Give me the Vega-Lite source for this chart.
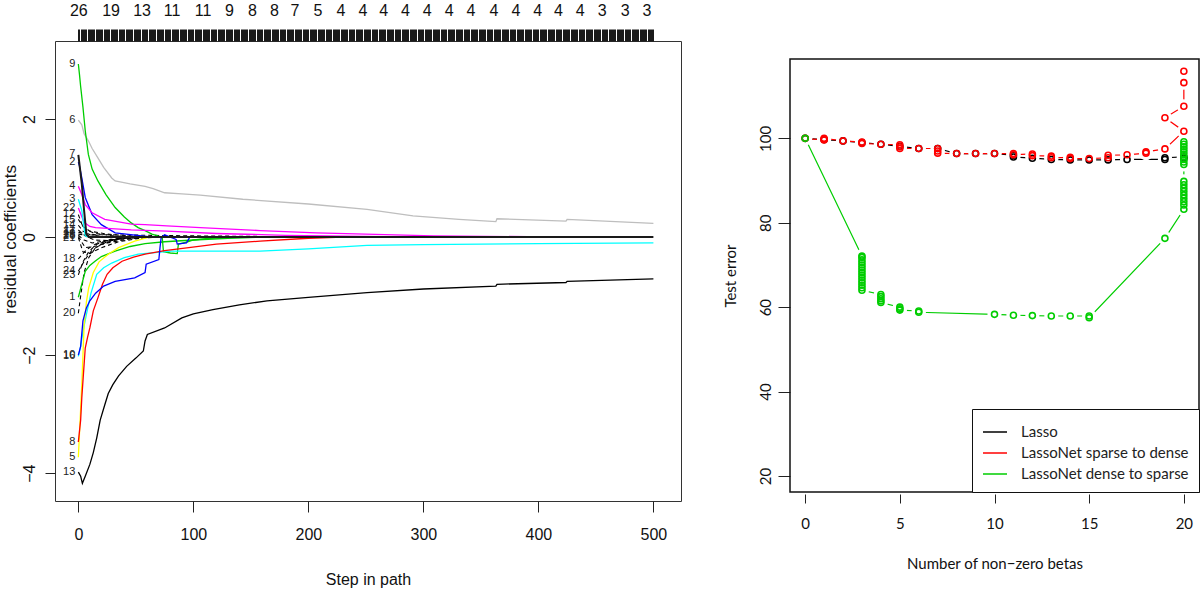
{
"$schema": "https://vega.github.io/schema/vega-lite/v6.json",
"padding": {"left": 0, "top": 1, "right": 0, "bottom": 0},
"background": "white",
"spacing": 41,
"resolve": {"scale": {"color": "independent"}, "legend": {"color": "independent"}},
"datasets": {
"paths": [
{"v":"12","s":0,"c":0.38},{"v":"12","s":3,"c":0.22},{"v":"12","s":7,"c":0.12},{"v":"12","s":15,"c":0.06},{"v":"12","s":30,"c":0.02},{"v":"12","s":50,"c":0},
{"v":"15","s":0,"c":0.3},{"v":"15","s":4,"c":0.18},{"v":"15","s":10,"c":0.1},{"v":"15","s":25,"c":0.05},{"v":"15","s":45,"c":0.02},{"v":"15","s":65,"c":0},
{"v":"14","s":0,"c":0.2},{"v":"14","s":4,"c":0.1},{"v":"14","s":10,"c":0.04},{"v":"14","s":25,"c":0},
{"v":"11","s":0,"c":0.12},{"v":"11","s":6,"c":0.02},{"v":"11","s":14,"c":-0.05},{"v":"11","s":25,"c":-0.06},{"v":"11","s":40,"c":-0.02},{"v":"11","s":58,"c":0},
{"v":"17","s":0,"c":0.08},{"v":"17","s":5,"c":0.06},{"v":"17","s":15,"c":0.04},{"v":"17","s":60,"c":0.03},{"v":"17","s":100,"c":0.02},{"v":"17","s":160,"c":0.01},{"v":"17","s":200,"c":0},
{"v":"19","s":0,"c":0.05},{"v":"19","s":8,"c":0.03},{"v":"19","s":20,"c":0},
{"v":"25","s":0,"c":0.03},{"v":"25","s":5,"c":-0.05},{"v":"25","s":12,"c":-0.1},{"v":"25","s":25,"c":-0.06},{"v":"25","s":40,"c":-0.02},{"v":"25","s":60,"c":0},
{"v":"26","s":0,"c":0.01},{"v":"26","s":6,"c":-0.18},{"v":"26","s":14,"c":-0.16},{"v":"26","s":25,"c":-0.1},{"v":"26","s":45,"c":-0.03},{"v":"26","s":70,"c":0},
{"v":"21","s":0,"c":-0.01},{"v":"21","s":4,"c":-0.25},{"v":"21","s":10,"c":-0.28},{"v":"21","s":20,"c":-0.18},{"v":"21","s":35,"c":-0.08},{"v":"21","s":60,"c":0},
{"v":"18","s":0,"c":-0.37},{"v":"18","s":3,"c":-0.3},{"v":"18","s":8,"c":-0.2},{"v":"18","s":15,"c":-0.12},{"v":"18","s":30,"c":-0.05},{"v":"18","s":50,"c":0},
{"v":"24","s":0,"c":-0.58},{"v":"24","s":3,"c":-0.48},{"v":"24","s":7,"c":-0.35},{"v":"24","s":12,"c":-0.22},{"v":"24","s":20,"c":-0.12},{"v":"24","s":35,"c":-0.04},{"v":"24","s":55,"c":0},
{"v":"23","s":0,"c":-0.64},{"v":"23","s":4,"c":-0.42},{"v":"23","s":9,"c":-0.25},{"v":"23","s":16,"c":-0.12},{"v":"23","s":28,"c":-0.04},{"v":"23","s":45,"c":0},
{"v":"20","s":0,"c":-1.29},{"v":"20","s":2,"c":-1.0},{"v":"20","s":5,"c":-0.6},{"v":"20","s":9,"c":-0.35},{"v":"20","s":15,"c":-0.18},{"v":"20","s":25,"c":-0.08},{"v":"20","s":40,"c":0},
{"v":"6","s":0,"c":1.98},{"v":"6","s":3,"c":1.9},{"v":"6","s":5,"c":1.75},{"v":"6","s":8.7,"c":1.63},{"v":"6","s":12,"c":1.5},{"v":"6","s":17,"c":1.34},{"v":"6","s":22,"c":1.18},{"v":"6","s":29,"c":1.0},{"v":"6","s":32,"c":0.95},{"v":"6","s":45,"c":0.9},{"v":"6","s":58,"c":0.86},{"v":"6","s":65,"c":0.82},{"v":"6","s":75,"c":0.75},{"v":"6","s":90,"c":0.73},{"v":"6","s":106,"c":0.71},{"v":"6","s":143,"c":0.64},{"v":"6","s":200,"c":0.56},{"v":"6","s":251,"c":0.47},{"v":"6","s":291,"c":0.36},{"v":"6","s":331,"c":0.3},{"v":"6","s":363,"c":0.26},{"v":"6","s":364,"c":0.31},{"v":"6","s":424,"c":0.27},{"v":"6","s":425,"c":0.3},{"v":"6","s":500,"c":0.23},
{"v":"9","s":0,"c":2.93},{"v":"9","s":1,"c":2.75},{"v":"9","s":2,"c":2.55},{"v":"9","s":4,"c":2.2},{"v":"9","s":6,"c":1.8},{"v":"9","s":8.7,"c":1.4},{"v":"9","s":12,"c":1.15},{"v":"9","s":17,"c":0.95},{"v":"9","s":24,"c":0.72},{"v":"9","s":32,"c":0.5},{"v":"9","s":40,"c":0.34},{"v":"9","s":46,"c":0.24},{"v":"9","s":52,"c":0.16},{"v":"9","s":58,"c":0.11},{"v":"9","s":64,"c":0.05},{"v":"9","s":69,"c":0.02},{"v":"9","s":73,"c":-0.02},{"v":"9","s":74,"c":-0.25},{"v":"9","s":80,"c":-0.27},{"v":"9","s":86,"c":-0.28},{"v":"9","s":87,"c":-0.12},{"v":"9","s":95,"c":-0.08},{"v":"9","s":100,"c":-0.05},{"v":"9","s":115,"c":-0.02},{"v":"9","s":130,"c":0},
{"v":"2","s":0,"c":1.27},{"v":"2","s":1,"c":1.2},{"v":"2","s":3,"c":1.0},{"v":"2","s":6,"c":0.67},{"v":"2","s":12,"c":0.38},{"v":"2","s":20,"c":0.21},{"v":"2","s":32,"c":0.07},{"v":"2","s":55,"c":0.02},{"v":"2","s":65,"c":0},
{"v":"4","s":0,"c":0.86},{"v":"4","s":3,"c":0.72},{"v":"4","s":6,"c":0.55},{"v":"4","s":12,"c":0.41},{"v":"4","s":23,"c":0.3},{"v":"4","s":46,"c":0.22},{"v":"4","s":58,"c":0.21},{"v":"4","s":77,"c":0.19},{"v":"4","s":106,"c":0.16},{"v":"4","s":158,"c":0.11},{"v":"4","s":207,"c":0.07},{"v":"4","s":309,"c":0.02},{"v":"4","s":425,"c":0},
{"v":"22","s":0,"c":0.49},{"v":"22","s":5,"c":0.25},{"v":"22","s":10,"c":0.18},{"v":"22","s":15,"c":0.16},{"v":"22","s":46,"c":0.12},{"v":"22","s":77,"c":0.1},{"v":"22","s":120,"c":0.06},{"v":"22","s":180,"c":0.03},{"v":"22","s":250,"c":0.01},{"v":"22","s":300,"c":0},
{"v":"3","s":0,"c":0.64},{"v":"3","s":3,"c":0.45},{"v":"3","s":5,"c":0.15},{"v":"3","s":6,"c":0.02},{"v":"3","s":8,"c":0},
{"v":"1","s":0,"c":-1.02},{"v":"1","s":3,"c":-0.8},{"v":"1","s":6,"c":-0.58},{"v":"1","s":10,"c":-0.48},{"v":"1","s":14.5,"c":-0.41},{"v":"1","s":20,"c":-0.33},{"v":"1","s":32,"c":-0.24},{"v":"1","s":45,"c":-0.16},{"v":"1","s":58,"c":-0.11},{"v":"1","s":75,"c":-0.08},{"v":"1","s":100,"c":-0.05},{"v":"1","s":130,"c":-0.02},{"v":"1","s":160,"c":0},
{"v":"16","s":0,"c":-2.02},{"v":"16","s":2,"c":-1.85},{"v":"16","s":4,"c":-1.6},{"v":"16","s":7,"c":-1.31},{"v":"16","s":11,"c":-0.95},{"v":"16","s":16,"c":-0.63},{"v":"16","s":22,"c":-0.52},{"v":"16","s":29,"c":-0.44},{"v":"16","s":40,"c":-0.35},{"v":"16","s":52,"c":-0.29},{"v":"16","s":81,"c":-0.24},{"v":"16","s":158,"c":-0.24},{"v":"16","s":200,"c":-0.2},{"v":"16","s":251,"c":-0.14},{"v":"16","s":300,"c":-0.13},{"v":"16","s":400,"c":-0.11},{"v":"16","s":500,"c":-0.1},
{"v":"5","s":0,"c":-3.73},{"v":"5","s":3,"c":-2.5},{"v":"5","s":5,"c":-1.5},{"v":"5","s":7,"c":-1.1},{"v":"5","s":9,"c":-0.86},{"v":"5","s":13,"c":-0.6},{"v":"5","s":18,"c":-0.42},{"v":"5","s":26,"c":-0.29},{"v":"5","s":35,"c":-0.18},{"v":"5","s":49,"c":-0.07},{"v":"5","s":60,"c":-0.01},{"v":"5","s":70,"c":0},
{"v":"8","s":0,"c":-3.47},{"v":"8","s":2,"c":-3.1},{"v":"8","s":3,"c":-2.72},{"v":"8","s":6,"c":-1.88},{"v":"8","s":8,"c":-1.7},{"v":"8","s":10,"c":-1.54},{"v":"8","s":13,"c":-1.25},{"v":"8","s":17,"c":-1.03},{"v":"8","s":21,"c":-0.8},{"v":"8","s":25,"c":-0.63},{"v":"8","s":30,"c":-0.52},{"v":"8","s":38,"c":-0.41},{"v":"8","s":48,"c":-0.34},{"v":"8","s":58,"c":-0.29},{"v":"8","s":75,"c":-0.23},{"v":"8","s":96,"c":-0.18},{"v":"8","s":120,"c":-0.12},{"v":"8","s":158,"c":-0.07},{"v":"8","s":200,"c":-0.02},{"v":"8","s":230,"c":0},
{"v":"10","s":0,"c":-2.0},{"v":"10","s":2,"c":-1.85},{"v":"10","s":4,"c":-1.42},{"v":"10","s":7,"c":-1.2},{"v":"10","s":10,"c":-1.08},{"v":"10","s":15,"c":-0.95},{"v":"10","s":22,"c":-0.83},{"v":"10","s":32,"c":-0.75},{"v":"10","s":49,"c":-0.69},{"v":"10","s":58,"c":-0.6},{"v":"10","s":59,"c":-0.46},{"v":"10","s":70,"c":-0.38},{"v":"10","s":71,"c":-0.18},{"v":"10","s":72,"c":-0.01},{"v":"10","s":75,"c":0.04},{"v":"10","s":80,"c":0},{"v":"10","s":85,"c":-0.04},{"v":"10","s":86,"c":-0.12},{"v":"10","s":94,"c":-0.1},{"v":"10","s":97,"c":0},
{"v":"13","s":0,"c":-3.98},{"v":"13","s":2,"c":-4.05},{"v":"13","s":3.5,"c":-4.17},{"v":"13","s":6,"c":-4.05},{"v":"13","s":10,"c":-3.85},{"v":"13","s":13,"c":-3.65},{"v":"13","s":16,"c":-3.4},{"v":"13","s":19,"c":-3.1},{"v":"13","s":23,"c":-2.84},{"v":"13","s":26,"c":-2.65},{"v":"13","s":30,"c":-2.5},{"v":"13","s":35,"c":-2.35},{"v":"13","s":42,"c":-2.19},{"v":"13","s":50,"c":-2.05},{"v":"13","s":56.5,"c":-1.93},{"v":"13","s":58,"c":-1.76},{"v":"13","s":60,"c":-1.65},{"v":"13","s":75,"c":-1.54},{"v":"13","s":90,"c":-1.37},{"v":"13","s":100,"c":-1.3},{"v":"13","s":117,"c":-1.23},{"v":"13","s":140,"c":-1.15},{"v":"13","s":164,"c":-1.08},{"v":"13","s":200,"c":-1.02},{"v":"13","s":251,"c":-0.94},{"v":"13","s":300,"c":-0.88},{"v":"13","s":363,"c":-0.83},{"v":"13","s":364,"c":-0.8},{"v":"13","s":424,"c":-0.77},{"v":"13","s":425,"c":-0.75},{"v":"13","s":500,"c":-0.71},
{"v":"7","s":0,"c":1.39},{"v":"7","s":3,"c":0.9},{"v":"7","s":5,"c":0.45},{"v":"7","s":7,"c":0.05},{"v":"7","s":9,"c":0},{"v":"7","s":500,"c":0}
],
"labs": [
{"v":"9","c":2.93},{"v":"6","c":1.98},{"v":"7","c":1.41},{"v":"2","c":1.27},{"v":"4","c":0.86},{"v":"3","c":0.64},{"v":"22","c":0.49},{"v":"12","c":0.39},{"v":"15","c":0.29},{"v":"14","c":0.2},{"v":"11","c":0.12},{"v":"17","c":0.08},{"v":"19","c":0.05},{"v":"25","c":0.03},{"v":"26","c":0.01},{"v":"21","c":-0.01},{"v":"18","c":-0.37},{"v":"24","c":-0.58},{"v":"23","c":-0.64},{"v":"1","c":-1.02},{"v":"20","c":-1.29},{"v":"10","c":-2.0},{"v":"16","c":-2.02},{"v":"8","c":-3.47},{"v":"5","c":-3.73},{"v":"13","c":-3.98}
],
"frame": [{"x1": -0.8, "x2": 20.8, "y1": 16.2, "y2": 118.8}],
"r": [
{"m":"Lasso","b":0,"e":100,"o":0},{"m":"Lasso","b":1,"e":99.7,"o":1},{"m":"Lasso","b":2,"e":99.4,"o":2},{"m":"Lasso","b":3,"e":99.0,"o":3},{"m":"Lasso","b":4,"e":98.6,"o":4},{"m":"Lasso","b":5,"e":98.1,"o":5},{"m":"Lasso","b":6,"e":97.6,"o":6},{"m":"Lasso","b":7,"e":97.6,"o":7},{"m":"Lasso","b":8,"e":96.4,"o":8},{"m":"Lasso","b":9,"e":96.4,"o":9},{"m":"Lasso","b":10,"e":96.4,"o":10},{"m":"Lasso","b":11,"e":96.0,"o":11},{"m":"Lasso","b":11,"e":95.6,"o":12},{"m":"Lasso","b":12,"e":95.3,"o":13},{"m":"Lasso","b":13,"e":95.0,"o":14},{"m":"Lasso","b":14,"e":94.9,"o":15},{"m":"Lasso","b":15,"e":94.9,"o":16},{"m":"Lasso","b":16,"e":94.9,"o":17},{"m":"Lasso","b":17,"e":95.0,"o":18},{"m":"Lasso","b":19,"e":95.0,"o":19},{"m":"Lasso","b":19,"e":95.4,"o":20},{"m":"Lasso","b":20,"e":95.6,"o":21},{"m":"Lasso","b":20,"e":95.2,"o":22},
{"m":"LassoNet sparse to dense","b":0,"e":100,"o":0},{"m":"LassoNet sparse to dense","b":1,"e":99.6,"o":1},{"m":"LassoNet sparse to dense","b":1,"e":99.8,"o":2},{"m":"LassoNet sparse to dense","b":1,"e":100.0,"o":3},{"m":"LassoNet sparse to dense","b":2,"e":99.4,"o":4},{"m":"LassoNet sparse to dense","b":3,"e":99.1,"o":5},{"m":"LassoNet sparse to dense","b":3,"e":98.8,"o":6},{"m":"LassoNet sparse to dense","b":4,"e":98.6,"o":7},{"m":"LassoNet sparse to dense","b":5,"e":98.5,"o":8},{"m":"LassoNet sparse to dense","b":5,"e":98.0,"o":9},{"m":"LassoNet sparse to dense","b":5,"e":97.6,"o":10},{"m":"LassoNet sparse to dense","b":6,"e":97.6,"o":11},{"m":"LassoNet sparse to dense","b":7,"e":97.6,"o":12},{"m":"LassoNet sparse to dense","b":7,"e":97.0,"o":13},{"m":"LassoNet sparse to dense","b":7,"e":96.5,"o":14},{"m":"LassoNet sparse to dense","b":8,"e":96.4,"o":15},{"m":"LassoNet sparse to dense","b":9,"e":96.4,"o":16},{"m":"LassoNet sparse to dense","b":10,"e":96.4,"o":17},{"m":"LassoNet sparse to dense","b":11,"e":96.4,"o":18},{"m":"LassoNet sparse to dense","b":11,"e":96.1,"o":19},{"m":"LassoNet sparse to dense","b":12,"e":96.3,"o":20},{"m":"LassoNet sparse to dense","b":12,"e":95.9,"o":21},{"m":"LassoNet sparse to dense","b":13,"e":95.8,"o":22},{"m":"LassoNet sparse to dense","b":13,"e":95.4,"o":23},{"m":"LassoNet sparse to dense","b":14,"e":95.5,"o":24},{"m":"LassoNet sparse to dense","b":14,"e":95.2,"o":25},{"m":"LassoNet sparse to dense","b":15,"e":95.2,"o":26},{"m":"LassoNet sparse to dense","b":16,"e":95.4,"o":27},{"m":"LassoNet sparse to dense","b":16,"e":96.0,"o":28},{"m":"LassoNet sparse to dense","b":17,"e":96.1,"o":29},{"m":"LassoNet sparse to dense","b":18,"e":96.5,"o":30},{"m":"LassoNet sparse to dense","b":18,"e":96.8,"o":31},{"m":"LassoNet sparse to dense","b":19,"e":97.5,"o":32},{"m":"LassoNet sparse to dense","b":20,"e":101.7,"o":33},{"m":"LassoNet sparse to dense","b":19,"e":104.9,"o":34},{"m":"LassoNet sparse to dense","b":20,"e":107.6,"o":35},{"m":"LassoNet sparse to dense","b":20,"e":113.2,"o":36},{"m":"LassoNet sparse to dense","b":20,"e":115.9,"o":37},
{"m":"LassoNet dense to sparse","b":20,"e":99.2,"o":0},{"m":"LassoNet dense to sparse","b":20,"e":98.6,"o":1},{"m":"LassoNet dense to sparse","b":20,"e":98.0,"o":2},{"m":"LassoNet dense to sparse","b":20,"e":97.4,"o":3},{"m":"LassoNet dense to sparse","b":20,"e":96.8,"o":4},{"m":"LassoNet dense to sparse","b":20,"e":96.2,"o":5},{"m":"LassoNet dense to sparse","b":20,"e":95.6,"o":6},{"m":"LassoNet dense to sparse","b":20,"e":95.0,"o":7},{"m":"LassoNet dense to sparse","b":20,"e":94.4,"o":8},{"m":"LassoNet dense to sparse","b":20,"e":93.8,"o":9},{"m":"LassoNet dense to sparse","b":20,"e":89.8,"o":10},{"m":"LassoNet dense to sparse","b":20,"e":89.0,"o":11},{"m":"LassoNet dense to sparse","b":20,"e":88.2,"o":12},{"m":"LassoNet dense to sparse","b":20,"e":87.4,"o":13},{"m":"LassoNet dense to sparse","b":20,"e":86.6,"o":14},{"m":"LassoNet dense to sparse","b":20,"e":85.8,"o":15},{"m":"LassoNet dense to sparse","b":20,"e":85.0,"o":16},{"m":"LassoNet dense to sparse","b":20,"e":84.2,"o":17},{"m":"LassoNet dense to sparse","b":20,"e":83.2,"o":18},{"m":"LassoNet dense to sparse","b":19,"e":76.3,"o":19},{"m":"LassoNet dense to sparse","b":15,"e":57.5,"o":20},{"m":"LassoNet dense to sparse","b":15,"e":57.9,"o":21},{"m":"LassoNet dense to sparse","b":14,"e":57.9,"o":22},{"m":"LassoNet dense to sparse","b":13,"e":57.9,"o":23},{"m":"LassoNet dense to sparse","b":12,"e":58.0,"o":24},{"m":"LassoNet dense to sparse","b":11,"e":58.1,"o":25},{"m":"LassoNet dense to sparse","b":10,"e":58.3,"o":26},{"m":"LassoNet dense to sparse","b":6,"e":58.8,"o":27},{"m":"LassoNet dense to sparse","b":6,"e":59.1,"o":28},{"m":"LassoNet dense to sparse","b":5,"e":59.3,"o":29},{"m":"LassoNet dense to sparse","b":5,"e":59.6,"o":30},{"m":"LassoNet dense to sparse","b":5,"e":60.0,"o":31},{"m":"LassoNet dense to sparse","b":4,"e":61.1,"o":32},{"m":"LassoNet dense to sparse","b":4,"e":61.5,"o":33},{"m":"LassoNet dense to sparse","b":4,"e":62.0,"o":34},{"m":"LassoNet dense to sparse","b":4,"e":62.5,"o":35},{"m":"LassoNet dense to sparse","b":4,"e":63.0,"o":36},{"m":"LassoNet dense to sparse","b":3,"e":64.0,"o":37},{"m":"LassoNet dense to sparse","b":3,"e":64.6,"o":38},{"m":"LassoNet dense to sparse","b":3,"e":65.2,"o":39},{"m":"LassoNet dense to sparse","b":3,"e":65.8,"o":40},{"m":"LassoNet dense to sparse","b":3,"e":66.4,"o":41},{"m":"LassoNet dense to sparse","b":3,"e":67.0,"o":42},{"m":"LassoNet dense to sparse","b":3,"e":67.6,"o":43},{"m":"LassoNet dense to sparse","b":3,"e":68.2,"o":44},{"m":"LassoNet dense to sparse","b":3,"e":68.8,"o":45},{"m":"LassoNet dense to sparse","b":3,"e":69.4,"o":46},{"m":"LassoNet dense to sparse","b":3,"e":70.0,"o":47},{"m":"LassoNet dense to sparse","b":3,"e":70.6,"o":48},{"m":"LassoNet dense to sparse","b":3,"e":71.2,"o":49},{"m":"LassoNet dense to sparse","b":3,"e":71.8,"o":50},{"m":"LassoNet dense to sparse","b":3,"e":72.1,"o":51},{"m":"LassoNet dense to sparse","b":0,"e":100,"o":52}
]
},
"hconcat": [
{
 "width": 626, "height": 460,
 "view": {"stroke": "#333", "strokeWidth": 1},
 "resolve": {"axis": {"x": "independent"}},
 "layer": [
  {
   "data": {"name": "paths"},
   "transform": [{"filter": {"field": "v", "oneOf": ["12","15","14","11","17","19","25","26","21","18","24","23","20"]}}],
   "mark": {"type": "line", "color": "#000000", "strokeWidth": 1.1, "strokeDash": [4, 3]},
   "encoding": {
    "x": {"field": "s", "type": "quantitative", "scale": {"domain": [-20.3, 524], "nice": false, "zero": false},
     "axis": {"orient": "bottom", "values": [0, 100, 200, 300, 400, 500], "tickSize": 11, "labelFontSize": 16, "labelPadding": 14, "labelFont": "Liberation Sans", "title": "Step in path", "titleFont": "Liberation Sans", "titleFontSize": 16, "titlePadding": 29}},
    "y": {"field": "c", "type": "quantitative", "scale": {"domain": [-4.47, 3.32], "nice": false, "zero": false},
     "axis": {"values": [-4, -2, 0, 2], "tickSize": 10, "labelAngle": -90, "labelAlign": "center", "labelBaseline": "bottom", "labelFontSize": 16, "labelPadding": 8, "labelFont": "Liberation Sans", "title": "residual coefficients", "titleFont": "Liberation Sans", "titleFontSize": 17, "titlePadding": 2, "titleY": 198}},
    "detail": {"field": "v"}
   }
  },
  {
   "data": {"name": "paths"},
   "transform": [{"filter": {"not": {"field": "v", "oneOf": ["12","15","14","11","17","19","25","26","21","18","24","23","20","7"]}}}],
   "mark": {"type": "line", "strokeWidth": 1.3},
   "encoding": {
    "x": {"field": "s", "type": "quantitative", "scale": {"domain": [-20.3, 524], "nice": false, "zero": false}, "axis": null},
    "y": {"field": "c", "type": "quantitative", "scale": {"domain": [-4.47, 3.32], "nice": false, "zero": false},
     "axis": {"values": [-4, -2, 0, 2], "tickSize": 10, "labelAngle": -90, "labelAlign": "center", "labelBaseline": "bottom", "labelFontSize": 16, "labelPadding": 8, "labelFont": "Liberation Sans", "title": "residual coefficients", "titleFont": "Liberation Sans", "titleFontSize": 17, "titlePadding": 2, "titleY": 198}},
    "color": {"field": "v", "type": "nominal", "legend": null,
     "scale": {"domain": ["6","9","2","4","22","3","1","16","5","8","10","13"], "range": ["#BEBEBE","#00CD00","#0000FF","#FF00FF","#FF00FF","#00FFFF","#00CD00","#00FFFF","#FFFF00","#FF0000","#0000FF","#000000"]}}
   }
  },
  {
   "data": {"name": "paths"},
   "transform": [{"filter": {"field": "v", "equal": "7"}}],
   "mark": {"type": "line", "strokeWidth": 2, "color": "#1a1a1a"},
   "encoding": {
    "x": {"field": "s", "type": "quantitative", "scale": {"domain": [-20.3, 524], "nice": false, "zero": false}, "axis": null},
    "y": {"field": "c", "type": "quantitative", "scale": {"domain": [-4.47, 3.32], "nice": false, "zero": false},
     "axis": {"values": [-4, -2, 0, 2], "tickSize": 10, "labelAngle": -90, "labelAlign": "center", "labelBaseline": "bottom", "labelFontSize": 16, "labelPadding": 8, "labelFont": "Liberation Sans", "title": "residual coefficients", "titleFont": "Liberation Sans", "titleFontSize": 17, "titlePadding": 2, "titleY": 198}}
   }
  },
  {
   "data": {"values": [{}]},
   "mark": {"type": "rule", "color": "#222222", "strokeDash": [4, 4], "strokeWidth": 1},
   "encoding": {
    "x": {"datum": 58.5, "type": "quantitative", "scale": {"domain": [-20.3, 524], "nice": false, "zero": false},
     "axis": {"orient": "top", "title": null, "tickSize": 12, "tickColor": "#1a1a1a", "tickWidth": 1, "labelFontSize": 16, "labelPadding": 11, "labelFont": "Liberation Sans", "labelOverlap": false, "labelFlush": false,
      "values": [0,1,2,3,4,5,6,7,8,9,10,11,12,13,14,15,16,17,18,19,20,21,22,23,24,25,26,27,28,29,30,31,32,33,34,35,36,37,38,39,40,41,42,43,44,45,46,47,48,49,50,51,52,53,54,55,56,57,58,59,60,61,62,63,64,65,66,67,68,69,70,71,72,73,74,75,76,77,78,79,80,81,82,83,84,85,86,87,88,89,90,91,92,93,94,95,96,97,98,99,100,101,102,103,104,105,106,107,108,109,110,111,112,113,114,115,116,117,118,119,120,121,122,123,124,125,126,127,128,129,130,131,132,133,134,135,136,137,138,139,140,141,142,143,144,145,146,147,148,149,150,151,152,153,154,155,156,157,158,159,160,161,162,163,164,165,166,167,168,169,170,171,172,173,174,175,176,177,178,179,180,181,182,183,184,185,186,187,188,189,190,191,192,193,194,195,196,197,198,199,200,201,202,203,204,205,206,207,208,209,210,211,212,213,214,215,216,217,218,219,220,221,222,223,224,225,226,227,228,229,230,231,232,233,234,235,236,237,238,239,240,241,242,243,244,245,246,247,248,249,250,251,252,253,254,255,256,257,258,259,260,261,262,263,264,265,266,267,268,269,270,271,272,273,274,275,276,277,278,279,280,281,282,283,284,285,286,287,288,289,290,291,292,293,294,295,296,297,298,299,300,301,302,303,304,305,306,307,308,309,310,311,312,313,314,315,316,317,318,319,320,321,322,323,324,325,326,327,328,329,330,331,332,333,334,335,336,337,338,339,340,341,342,343,344,345,346,347,348,349,350,351,352,353,354,355,356,357,358,359,360,361,362,363,364,365,366,367,368,369,370,371,372,373,374,375,376,377,378,379,380,381,382,383,384,385,386,387,388,389,390,391,392,393,394,395,396,397,398,399,400,401,402,403,404,405,406,407,408,409,410,411,412,413,414,415,416,417,418,419,420,421,422,423,424,425,426,427,428,429,430,431,432,433,434,435,436,437,438,439,440,441,442,443,444,445,446,447,448,449,450,451,452,453,454,455,456,457,458,459,460,461,462,463,464,465,466,467,468,469,470,471,472,473,474,475,476,477,478,479,480,481,482,483,484,485,486,487,488,489,490,491,492,493,494,495,496,497,498,499,500],
      "labelExpr": "indexof([0,28,55,81,108,131,151,170,188,208,228,247,265,284,303,322,341,361,380,399,417,436,455,475,494], datum.value) >= 0 ? ['26','19','13','11','11','9','8','8','7','5','4','4','4','4','4','4','4','4','4','4','4','4','3','3','3'][indexof([0,28,55,81,108,131,151,170,188,208,228,247,265,284,303,322,341,361,380,399,417,436,455,475,494], datum.value)] : ''"}},
    "y": {"datum": 0, "type": "quantitative", "scale": {"domain": [-4.47, 3.32], "nice": false, "zero": false},
     "axis": {"values": [-4, -2, 0, 2], "tickSize": 10, "labelAngle": -90, "labelAlign": "center", "labelBaseline": "bottom", "labelFontSize": 16, "labelPadding": 8, "labelFont": "Liberation Sans", "title": "residual coefficients", "titleFont": "Liberation Sans", "titleFontSize": 17, "titlePadding": 2, "titleY": 198}},
    "y2": {"datum": 0}
   }
  },
  {
   "data": {"name": "labs"},
   "mark": {"type": "text", "align": "right", "baseline": "middle", "dx": -3, "fontSize": 11, "font": "Liberation Sans", "color": "#222222"},
   "encoding": {
    "x": {"datum": 0, "type": "quantitative", "scale": {"domain": [-20.3, 524], "nice": false, "zero": false}, "axis": null},
    "y": {"field": "c", "type": "quantitative", "scale": {"domain": [-4.47, 3.32], "nice": false, "zero": false},
     "axis": {"values": [-4, -2, 0, 2], "tickSize": 10, "labelAngle": -90, "labelAlign": "center", "labelBaseline": "bottom", "labelFontSize": 16, "labelPadding": 8, "labelFont": "Liberation Sans", "title": "residual coefficients", "titleFont": "Liberation Sans", "titleFontSize": 17, "titlePadding": 2, "titleY": 198}},
    "text": {"field": "v"}
   }
  }
 ]
},
{
 "width": 409, "height": 451,
 "view": {"stroke": null},
 "layer": [
  {
   "data": {"name": "r"},
   "mark": {"type": "line", "strokeWidth": 1.2},
   "encoding": {
    "x": {"field": "b", "type": "quantitative", "scale": {"domain": [-0.8, 20.8], "nice": false, "zero": false},
     "axis": {"orient": "bottom", "values": [0, 5, 10, 15, 20], "offset": 2, "tickSize": 9, "labelFontSize": 15, "labelPadding": 13, "labelFont": "Lato", "title": "Number of non\u2212zero betas", "titleFont": "Lato", "titleFontSize": 15, "titlePadding": 25}},
    "y": {"field": "e", "type": "quantitative", "scale": {"domain": [16.2, 123.07], "nice": false, "zero": false},
     "axis": {"values": [20, 40, 60, 80, 100], "tickSize": 12, "labelAngle": -90, "labelAlign": "center", "labelBaseline": "bottom", "labelFontSize": 15, "labelPadding": 5, "labelFont": "Lato", "title": "Test error", "titleFont": "Lato", "titleFontSize": 15, "titlePadding": 20, "titleY": 234.5}},
    "color": {"field": "m", "type": "nominal", "scale": {"domain": ["Lasso", "LassoNet sparse to dense", "LassoNet dense to sparse"], "range": ["#000000", "#FF0000", "#00CD00"]}, "legend": {"title": null, "symbolType": "stroke"}},
    "order": {"field": "o"}
   }
  },
  {
   "data": {"name": "r"},
   "mark": {"type": "point", "shape": "circle", "filled": true, "color": "white", "opacity": 1, "size": 200},
   "encoding": {
    "x": {"field": "b", "type": "quantitative", "scale": {"domain": [-0.8, 20.8], "nice": false, "zero": false},
     "axis": {"orient": "bottom", "values": [0, 5, 10, 15, 20], "offset": 2, "tickSize": 9, "labelFontSize": 15, "labelPadding": 13, "labelFont": "Lato", "title": "Number of non\u2212zero betas", "titleFont": "Lato", "titleFontSize": 15, "titlePadding": 25}},
    "y": {"field": "e", "type": "quantitative", "scale": {"domain": [16.2, 123.07], "nice": false, "zero": false},
     "axis": {"values": [20, 40, 60, 80, 100], "tickSize": 12, "labelAngle": -90, "labelAlign": "center", "labelBaseline": "bottom", "labelFontSize": 15, "labelPadding": 5, "labelFont": "Lato", "title": "Test error", "titleFont": "Lato", "titleFontSize": 15, "titlePadding": 20, "titleY": 234.5}}
   }
  },
  {
   "data": {"name": "r"},
   "mark": {"type": "point", "shape": "circle", "filled": false, "opacity": 1, "size": 36, "strokeWidth": 1.6},
   "encoding": {
    "x": {"field": "b", "type": "quantitative", "scale": {"domain": [-0.8, 20.8], "nice": false, "zero": false},
     "axis": {"orient": "bottom", "values": [0, 5, 10, 15, 20], "offset": 2, "tickSize": 9, "labelFontSize": 15, "labelPadding": 13, "labelFont": "Lato", "title": "Number of non\u2212zero betas", "titleFont": "Lato", "titleFontSize": 15, "titlePadding": 25}},
    "y": {"field": "e", "type": "quantitative", "scale": {"domain": [16.2, 123.07], "nice": false, "zero": false},
     "axis": {"values": [20, 40, 60, 80, 100], "tickSize": 12, "labelAngle": -90, "labelAlign": "center", "labelBaseline": "bottom", "labelFontSize": 15, "labelPadding": 5, "labelFont": "Lato", "title": "Test error", "titleFont": "Lato", "titleFontSize": 15, "titlePadding": 20, "titleY": 234.5}},
    "color": {"field": "m", "type": "nominal", "scale": {"domain": ["Lasso", "LassoNet sparse to dense", "LassoNet dense to sparse"], "range": ["#000000", "#FF0000", "#00CD00"]}, "legend": {"title": null, "symbolType": "stroke"}}
   }
  },
  {
   "data": {"name": "frame"},
   "mark": {"type": "rect", "fill": null, "filled": false, "stroke": "#111111", "strokeWidth": 1.5},
   "encoding": {
    "x": {"field": "x1", "type": "quantitative", "scale": {"domain": [-0.8, 20.8], "nice": false, "zero": false},
     "axis": {"orient": "bottom", "values": [0, 5, 10, 15, 20], "offset": 2, "tickSize": 9, "labelFontSize": 15, "labelPadding": 13, "labelFont": "Lato", "title": "Number of non\u2212zero betas", "titleFont": "Lato", "titleFontSize": 15, "titlePadding": 25}},
    "x2": {"field": "x2"},
    "y": {"field": "y1", "type": "quantitative", "scale": {"domain": [16.2, 123.07], "nice": false, "zero": false},
     "axis": {"values": [20, 40, 60, 80, 100], "tickSize": 12, "labelAngle": -90, "labelAlign": "center", "labelBaseline": "bottom", "labelFontSize": 15, "labelPadding": 5, "labelFont": "Lato", "title": "Test error", "titleFont": "Lato", "titleFontSize": 15, "titlePadding": 20, "titleY": 234.5}},
    "y2": {"field": "y2"}
   }
  }
 ]
}
],
"config": {
 "axis": {"grid": false, "domain": false, "labelColor": "#111111", "titleColor": "#111111", "tickColor": "#222222", "titleFontWeight": "normal", "labelFlush": false},
 "legend": {"orient": "bottom-right", "offset": 0, "padding": 10, "strokeColor": "#111111", "fillColor": "white", "labelFont": "Lato", "labelFontSize": 15, "labelColor": "#222222", "labelOffset": 13, "symbolSize": 576, "symbolStrokeWidth": 1.5, "rowPadding": -3, "labelLimit": 400, "symbolType": "stroke"}
}
}
